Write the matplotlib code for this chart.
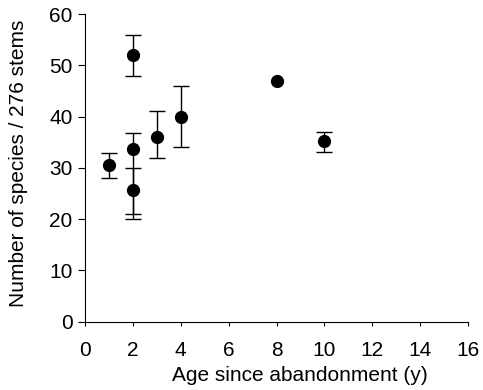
import numpy as np
import matplotlib
matplotlib.use("Agg")
import matplotlib.pyplot as plt

plt.rcParams['font.family'] = ['Liberation Sans', 'DejaVu Sans']

# stand age (years), mean species count and error bar ends
age = [1, 2, 2, 2, 3, 4, 8, 10]
species = [30.6, 52.0, 33.7, 25.6, 36.1, 40.0, 47.0, 35.3]
err_lo = [28.0, 48.0, 20.0, 21.0, 32.0, 34.0, 47.0, 33.1]
err_hi = [33.0, 55.9, 36.9, 30.0, 41.0, 45.9, 47.0, 37.0]

age = np.array(age)
species = np.array(species)
lo = species - np.array(err_lo)
hi = np.array(err_hi) - species
has_err = (lo > 0) | (hi > 0)

fig = plt.figure(figsize=(4.83, 3.9), dpi=100)
ax = fig.add_axes([0.176, 0.175, 0.793, 0.789])

ax.errorbar(age[has_err], species[has_err], yerr=[lo[has_err], hi[has_err]],
            fmt='none', ecolor='black', elinewidth=1, capsize=6, capthick=1)
ax.plot(age, species, 'o', color='black', markersize=8.5)

ax.set_xlim(0, 16)
ax.set_ylim(0, 60)
ax.set_xticks(range(0, 17, 2))
ax.set_yticks(range(0, 61, 10))
ax.spines['top'].set_visible(False)
ax.spines['right'].set_visible(False)
ax.tick_params(axis='x', direction='out', length=3, labelsize=15, pad=11)
ax.tick_params(axis='y', direction='out', length=5, labelsize=15, pad=4)
ax.set_xlabel('Age since abandonment (y)', fontsize=15)
ax.set_ylabel('Number of species / 276 stems', fontsize=15)
ax.xaxis.set_label_coords(0.56, -0.145)
ax.yaxis.set_label_coords(-0.15, 0.515)

fig.savefig('out.png', dpi=100)
